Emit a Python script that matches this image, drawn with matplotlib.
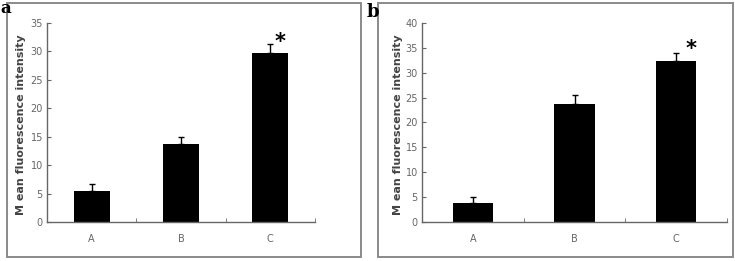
import numpy as np
import matplotlib.pyplot as plt
from matplotlib.patches import Rectangle

groups = ['A', 'B', 'C']

# panel a
mean_a = [5.5, 13.7, 29.7]
err_a = [1.1, 1.3, 1.6]
# panel b
mean_b = [3.8, 23.7, 32.3]
err_b = [1.3, 1.8, 1.6]

star_idx = 2
tick_font = ['Liberation Sans Narrow', 'DejaVu Sans']
grey = '#666666'

fig = plt.figure(figsize=(7.35, 2.61), dpi=100)

# outer frames of the two panels
for x0, x1 in [(7, 361), (378, 733)]:
    fig.patches.append(Rectangle((x0 / 735, 4 / 261), (x1 - x0) / 735, 254 / 261,
                                 transform=fig.transFigure, fill=False,
                                 edgecolor='#8a8a8a', lw=1.4))

fig.text(0.0, 1.0, 'a', fontsize=12, fontweight='bold', family='DejaVu Serif',
         va='top', ha='left')
fig.text(367 / 735, 1 - 3 / 261, 'b', fontsize=13, fontweight='bold', family='DejaVu Serif',
         va='top', ha='left')

panels = [
    (mean_a, err_a, 35, [47, 315], 21, 0.11, 0.3),
    (mean_b, err_b, 40, [422, 727], 398, 0.15, 0.8),
]

for means, errs, ymax, (xl, xr), ylab_x, star_dx, star_dy in panels:
    ax = fig.add_axes([xl / 735, 1 - 222 / 261, (xr - xl) / 735, 199 / 261])
    x = np.arange(len(groups))
    ax.bar(x, means, width=0.4, color='black', zorder=2)
    ax.errorbar(x, means, yerr=[np.zeros(len(errs)), errs], fmt='none',
                ecolor='black', elinewidth=1.0, capsize=2.2, capthick=1.0, zorder=3)
    ax.text(x[star_idx] + star_dx, means[star_idx] + errs[star_idx] + star_dy, '*',
            fontsize=15, fontweight='bold', ha='center', va='center', color='black')

    ax.set_xlim(-0.5, len(groups) - 0.5)
    ax.set_ylim(0, ymax)
    ax.set_yticks(np.arange(0, ymax + 1, 5))
    ax.set_xticks(x)
    ax.set_xticklabels(groups)
    ax.set_xticks(x + 0.5, minor=True)
    ax.tick_params(axis='x', which='major', length=0, pad=9, labelsize=7, labelcolor=grey)
    ax.tick_params(axis='x', which='minor', direction='in', length=3, color=grey)
    ax.tick_params(axis='y', direction='in', length=3, color=grey, labelsize=7,
                   labelcolor=grey, pad=3)
    for lab in ax.get_xticklabels() + ax.get_yticklabels():
        lab.set_family(tick_font)
    for s in ['top', 'right']:
        ax.spines[s].set_visible(False)
    for s in ['left', 'bottom']:
        ax.spines[s].set_color(grey)
        ax.spines[s].set_linewidth(1.0)

    fig.text(ylab_x / 735, 1 - 125 / 261, 'M ean fluorescence intensity', rotation=90,
             fontsize=8, fontweight='bold', color='#444444', ha='center', va='center')

fig.savefig('out.png', dpi=100)
